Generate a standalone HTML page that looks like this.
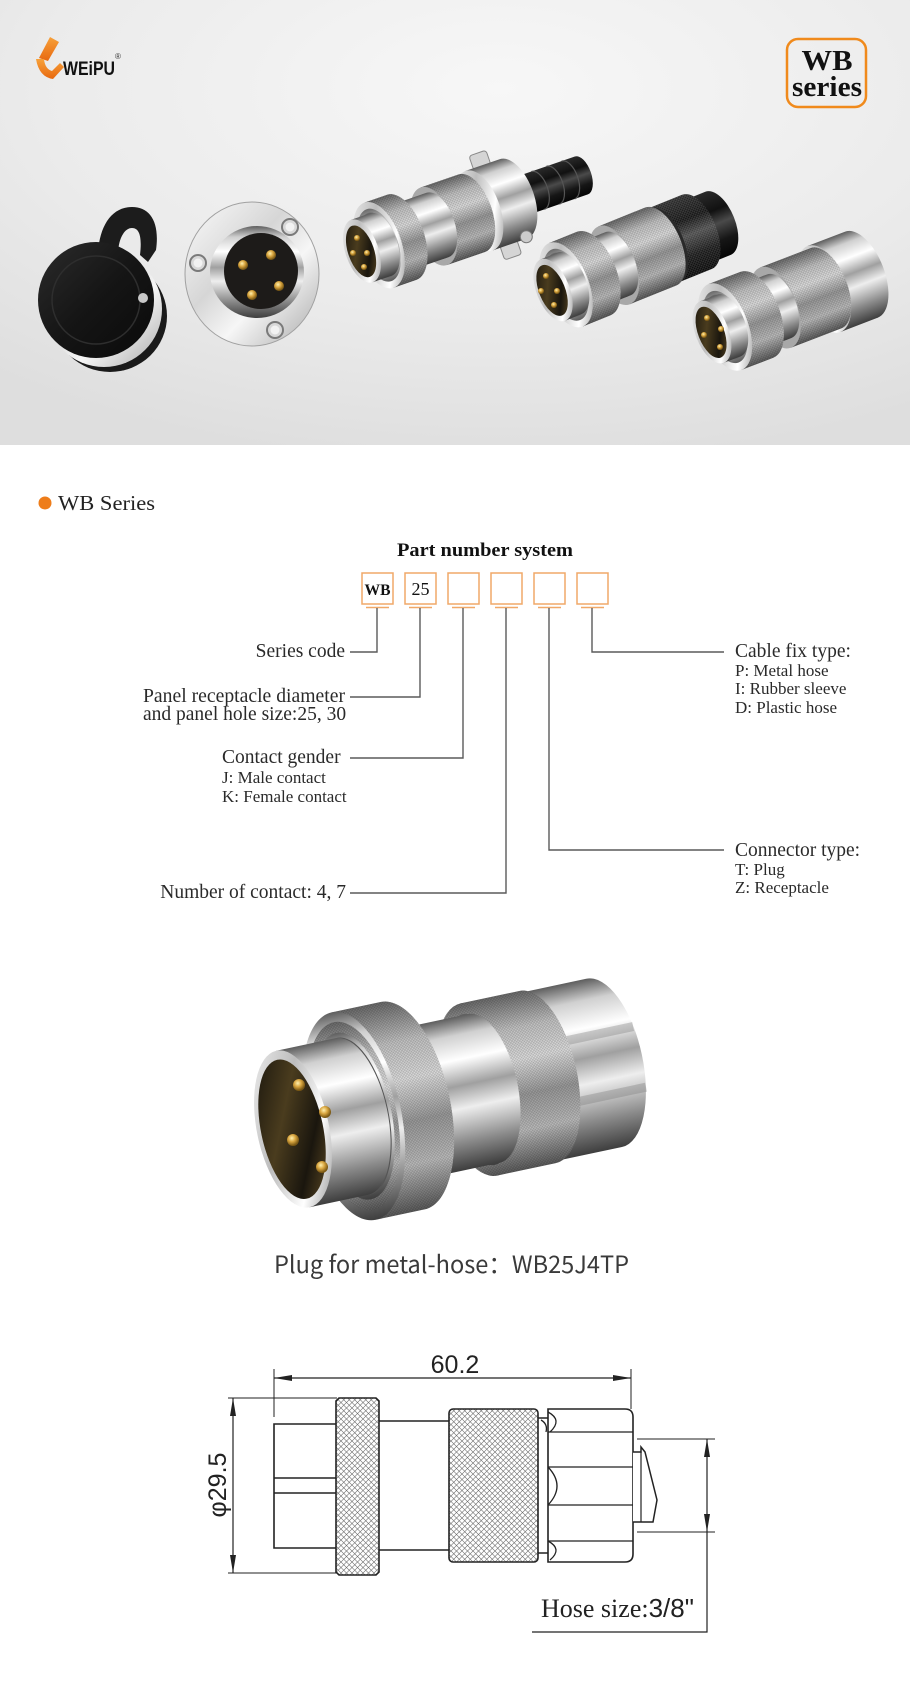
<!DOCTYPE html>
<html><head><meta charset="utf-8"><style>
html,body{margin:0;padding:0;background:#fff;}
svg{display:block;}
</style></head><body>
<svg width="910" height="1696" viewBox="0 0 910 1696" xmlns="http://www.w3.org/2000/svg">
<defs>
 <radialGradient id="bg" cx="0.55" cy="0.2" r="0.85">
  <stop offset="0" stop-color="#f7f7f7"/><stop offset="0.6" stop-color="#ebebeb"/><stop offset="1" stop-color="#dedede"/>
 </radialGradient>
 <linearGradient id="chrome" x1="0" y1="0" x2="0" y2="1">
  <stop offset="0" stop-color="#5e5e5e"/><stop offset="0.12" stop-color="#d0d0d0"/><stop offset="0.28" stop-color="#ffffff"/><stop offset="0.45" stop-color="#a0a0a0"/><stop offset="0.6" stop-color="#eeeeee"/><stop offset="0.82" stop-color="#8a8a8a"/><stop offset="1" stop-color="#3e3e3e"/>
 </linearGradient>
 <linearGradient id="chromeL" x1="0" y1="0" x2="1" y2="1">
  <stop offset="0" stop-color="#f4f4f4"/><stop offset="0.4" stop-color="#bdbdbd"/><stop offset="0.7" stop-color="#ffffff"/><stop offset="1" stop-color="#7a7a7a"/>
 </linearGradient>
 <linearGradient id="knurl" x1="0" y1="0" x2="0" y2="1">
  <stop offset="0" stop-color="#6a6a6a"/><stop offset="0.2" stop-color="#c4c4c4"/><stop offset="0.38" stop-color="#dedede"/><stop offset="0.58" stop-color="#9a9a9a"/><stop offset="0.78" stop-color="#bcbcbc"/><stop offset="1" stop-color="#5a5a5a"/>
 </linearGradient>
 <linearGradient id="blk" x1="0" y1="0" x2="0" y2="1">
  <stop offset="0" stop-color="#2a2a2a"/><stop offset="0.3" stop-color="#111"/><stop offset="0.5" stop-color="#4a4a4a"/><stop offset="0.75" stop-color="#161616"/><stop offset="1" stop-color="#050505"/>
 </linearGradient>
 <linearGradient id="flg" x1="0" y1="0" x2="1" y2="1">
  <stop offset="0" stop-color="#fbfbfb"/><stop offset="0.4" stop-color="#d6d6d6"/><stop offset="0.62" stop-color="#f6f6f6"/><stop offset="1" stop-color="#a8a8a8"/>
 </linearGradient>
 <linearGradient id="capg" x1="0" y1="0" x2="1" y2="1">
  <stop offset="0" stop-color="#2c2c2c"/><stop offset="0.5" stop-color="#151515"/><stop offset="1" stop-color="#0a0a0a"/>
 </linearGradient>
 <linearGradient id="ins" x1="0" y1="0" x2="1" y2="1">
  <stop offset="0" stop-color="#15120c"/><stop offset="0.4" stop-color="#4a3c1e"/><stop offset="0.7" stop-color="#1a160e"/><stop offset="1" stop-color="#6b5428"/>
 </linearGradient>
 <radialGradient id="gp" cx="0.4" cy="0.35" r="0.6">
  <stop offset="0" stop-color="#fff1b0"/><stop offset="0.5" stop-color="#d9a640"/><stop offset="1" stop-color="#7a5814"/>
 </radialGradient>
 <linearGradient id="org" x1="0" y1="0" x2="0" y2="1">
  <stop offset="0" stop-color="#f7a13a"/><stop offset="1" stop-color="#e8680f"/>
 </linearGradient>
 <pattern id="kt" width="3" height="3" patternUnits="userSpaceOnUse"><path d="M0,0L3,3M3,0L0,3" stroke="#000" stroke-opacity="0.22" stroke-width="0.6"/></pattern>
 <pattern id="kt2" width="3" height="3" patternUnits="userSpaceOnUse"><path d="M0,0L3,3M3,0L0,3" stroke="#fff" stroke-opacity="0.18" stroke-width="0.6"/></pattern>
 <pattern id="hatch" width="5.5" height="5.5" patternUnits="userSpaceOnUse"><path d="M0,0L5.5,5.5M5.5,0L0,5.5" stroke="#666" stroke-width="0.6"/></pattern>
</defs>

<!-- ===== Banner ===== -->
<rect x="0" y="0" width="910" height="445" fill="url(#bg)"/>

<!-- logo -->
<path d="M50,37 L59,42 L48,61 L39,58 Z" fill="url(#org)"/>
<path d="M36,59 L44,59 Q45,69 52,71 L60,63 L64,67 L53,79 Q39,77 36,59 Z" fill="url(#org)"/>
<text x="63" y="75" font-family="'Liberation Sans', sans-serif" font-weight="bold" font-size="19" textLength="52" lengthAdjust="spacingAndGlyphs" fill="#111">WEiPU</text>
<text x="115" y="59" font-family="'Liberation Sans', sans-serif" font-size="8" fill="#333">®</text>

<!-- WB series box -->
<rect x="787" y="39" width="79" height="68" rx="11" fill="none" stroke="#f08a1c" stroke-width="2.5"/>
<text x="827" y="70" text-anchor="middle" font-family="'Liberation Serif', serif" font-weight="bold" font-size="28" textLength="51" lengthAdjust="spacingAndGlyphs" fill="#111">WB</text>
<text x="827" y="96" text-anchor="middle" font-family="'Liberation Serif', serif" font-weight="bold" font-size="28" textLength="70" lengthAdjust="spacingAndGlyphs" fill="#111">series</text>

<!-- black cap -->
<ellipse cx="110" cy="316" rx="57" ry="56" fill="#1a1a1a"/>
<ellipse cx="104" cy="309" rx="58" ry="58" fill="url(#flg)"/>
<path d="M98,252 C100,225 112,207 132,207 C150,207 160,222 156,250 L148,262 L140,255 C142,238 140,228 132,228 C124,228 118,240 118,255 Z" fill="#1c1c1c"/>
<ellipse cx="96" cy="300" rx="58" ry="58" fill="url(#capg)"/>
<ellipse cx="96" cy="300" rx="44" ry="44" fill="none" stroke="#2e2e2e" stroke-width="1.5"/>
<circle cx="143" cy="298" r="5" fill="#c8c8c8"/>

<!-- flange receptacle -->
<ellipse cx="252" cy="274" rx="67" ry="72" fill="url(#flg)" stroke="#a0a0a0" stroke-width="1"/>
<circle cx="290" cy="227" r="8" fill="#d8d8d8" stroke="#7a7a7a" stroke-width="2"/><circle cx="290" cy="227" r="4.5" fill="#f2f2f2"/>
<circle cx="198" cy="263" r="8" fill="#d8d8d8" stroke="#7a7a7a" stroke-width="2"/><circle cx="198" cy="263" r="4.5" fill="#f2f2f2"/>
<circle cx="275" cy="330" r="8" fill="#d8d8d8" stroke="#7a7a7a" stroke-width="2"/><circle cx="275" cy="330" r="4.5" fill="#f2f2f2"/>
<ellipse cx="257" cy="272" rx="47" ry="46" fill="url(#chrome)"/>
<ellipse cx="261" cy="271" rx="37" ry="38" fill="#1d1b19"/>
<circle cx="243" cy="265" r="5" fill="url(#gp)"/><circle cx="271" cy="255" r="5" fill="url(#gp)"/>
<circle cx="279" cy="286" r="5" fill="url(#gp)"/><circle cx="252" cy="295" r="5" fill="url(#gp)"/>

<!-- plug 3 (cable clamp) -->
<g transform="translate(362,251) rotate(-19)">
 <path d="M168,-20 L232,-20 A10,20 0 0 1 232,20 L168,20 Z" fill="url(#blk)"/>
 <g fill="none" stroke="#555" stroke-width="1.2"><path d="M186,-20 A10,20 0 0 1 186,20"/><path d="M202,-20 A10,20 0 0 1 202,20"/><path d="M218,-20 A10,20 0 0 1 218,20"/></g>
 <rect x="132" y="-55" width="18" height="15" rx="3" fill="#d5d5d5" stroke="#888"/>
 <rect x="132" y="40" width="18" height="15" rx="3" fill="#d5d5d5" stroke="#888"/>
 <path d="M124,-42 L160,-42 A21,42 0 0 1 160,42 L124,42 Z" fill="url(#chrome)"/>
 <ellipse cx="124" cy="0" rx="21" ry="42" fill="url(#chromeL)"/>
 <circle cx="160" cy="40" r="6" fill="#ccc" stroke="#777"/>
 <path d="M76,-41 L116,-41 A20.5,41 0 0 1 116,41 L76,41 Z" fill="url(#knurl)"/>
 <path d="M76,-41 L116,-41 A20.5,41 0 0 1 116,41 L76,41 Z" fill="url(#kt)"/>
 <ellipse cx="76" cy="0" rx="20.5" ry="41" fill="#a8a8a8"/>
 <ellipse cx="76" cy="0" rx="17" ry="34" fill="url(#chrome)"/>
 <path d="M38,-34 L80,-34 A17,34 0 0 1 80,34 L38,34 Z" fill="url(#chrome)"/>
 <path d="M18,-45 L42,-45 A22.5,45 0 0 1 42,45 L18,45 Z" fill="url(#knurl)"/>
 <path d="M18,-45 L42,-45 A22.5,45 0 0 1 42,45 L18,45 Z" fill="url(#kt)"/>
 <ellipse cx="18" cy="0" rx="22.5" ry="45" fill="url(#chromeL)"/>
 <ellipse cx="18" cy="0" rx="19" ry="38" fill="url(#knurl)"/>
 <ellipse cx="18" cy="0" rx="17" ry="34" fill="#6a6a6a"/>
 <path d="M0,-33 L20,-33 A16.5,33 0 0 1 20,33 L0,33 Z" fill="url(#chrome)"/>
 <ellipse cx="0" cy="0" rx="16.5" ry="33" fill="url(#chromeL)"/>
 <ellipse cx="-1" cy="0" rx="13" ry="27" fill="url(#ins)"/>
</g>
<circle cx="357" cy="238" r="3" fill="url(#gp)"/><circle cx="353" cy="253" r="3" fill="url(#gp)"/>
<circle cx="367" cy="253" r="3" fill="url(#gp)"/><circle cx="364" cy="267" r="3" fill="url(#gp)"/>

<!-- plug 4 (black sleeve) -->
<g transform="translate(553,290) rotate(-22)">
 <path d="M158,-34 L178,-34 A17,34 0 0 1 178,34 L158,34 Z" fill="url(#blk)"/>
 <ellipse cx="158" cy="0" rx="17" ry="34" fill="#1e1e1e"/>
 <path d="M120,-40 L155,-40 A20,40 0 0 1 155,40 L120,40 Z" fill="url(#blk)"/>
 <path d="M120,-40 L155,-40 A20,40 0 0 1 155,40 L120,40 Z" fill="url(#kt2)"/>
 <ellipse cx="120" cy="0" rx="20" ry="40" fill="#2a2a2a"/>
 <path d="M66,-42 L116,-42 A21,42 0 0 1 116,42 L66,42 Z" fill="url(#knurl)"/>
 <path d="M66,-42 L116,-42 A21,42 0 0 1 116,42 L66,42 Z" fill="url(#kt)"/>
 <ellipse cx="66" cy="0" rx="21" ry="42" fill="#a8a8a8"/>
 <ellipse cx="66" cy="0" rx="17" ry="34" fill="url(#chrome)"/>
 <path d="M38,-34 L70,-34 A17,34 0 0 1 70,34 L38,34 Z" fill="url(#chrome)"/>
 <path d="M14,-45 L44,-45 A22.5,45 0 0 1 44,45 L14,45 Z" fill="url(#knurl)"/>
 <path d="M14,-45 L44,-45 A22.5,45 0 0 1 44,45 L14,45 Z" fill="url(#kt)"/>
 <ellipse cx="14" cy="0" rx="22.5" ry="45" fill="url(#chromeL)"/>
 <ellipse cx="14" cy="0" rx="19" ry="38" fill="url(#knurl)"/>
 <ellipse cx="14" cy="0" rx="17" ry="34" fill="#6a6a6a"/>
 <path d="M0,-33 L18,-33 A16.5,33 0 0 1 18,33 L0,33 Z" fill="url(#chrome)"/>
 <ellipse cx="0" cy="0" rx="16.5" ry="33" fill="url(#chromeL)"/>
 <ellipse cx="-1" cy="0" rx="13" ry="27" fill="url(#ins)"/>
</g>
<circle cx="546" cy="276" r="3" fill="url(#gp)"/><circle cx="541" cy="291" r="3" fill="url(#gp)"/>
<circle cx="557" cy="291" r="3" fill="url(#gp)"/><circle cx="554" cy="305" r="3" fill="url(#gp)"/>

<!-- plug 5 (nut) -->
<g transform="translate(712,332) rotate(-21)">
 <path d="M120,-46 L160,-46 A23,46 0 0 1 160,46 L120,46 Z" fill="url(#chrome)"/>
 <ellipse cx="120" cy="0" rx="23" ry="46" fill="url(#chromeL)"/>
 <path d="M68,-43 L122,-43 A21.5,43 0 0 1 122,43 L68,43 Z" fill="url(#knurl)"/>
 <path d="M68,-43 L122,-43 A21.5,43 0 0 1 122,43 L68,43 Z" fill="url(#kt)"/>
 <ellipse cx="68" cy="0" rx="21.5" ry="43" fill="#a8a8a8"/>
 <ellipse cx="68" cy="0" rx="17" ry="34" fill="url(#chrome)"/>
 <path d="M38,-34 L72,-34 A17,34 0 0 1 72,34 L38,34 Z" fill="url(#chrome)"/>
 <path d="M14,-46 L48,-46 A23,46 0 0 1 48,46 L14,46 Z" fill="url(#knurl)"/>
 <path d="M14,-46 L48,-46 A23,46 0 0 1 48,46 L14,46 Z" fill="url(#kt)"/>
 <ellipse cx="14" cy="0" rx="23" ry="46" fill="url(#chromeL)"/>
 <ellipse cx="14" cy="0" rx="19" ry="38" fill="url(#knurl)"/>
 <ellipse cx="14" cy="0" rx="17" ry="34" fill="#6a6a6a"/>
 <path d="M0,-33 L18,-33 A16.5,33 0 0 1 18,33 L0,33 Z" fill="url(#chrome)"/>
 <ellipse cx="0" cy="0" rx="16.5" ry="33" fill="url(#chromeL)"/>
 <ellipse cx="-1" cy="0" rx="13" ry="27" fill="url(#ins)"/>
</g>
<circle cx="707" cy="318" r="3" fill="url(#gp)"/><circle cx="704" cy="335" r="3" fill="url(#gp)"/>
<circle cx="721" cy="329" r="3" fill="url(#gp)"/><circle cx="720" cy="347" r="3" fill="url(#gp)"/>

<!-- ===== WB Series heading ===== -->
<ellipse cx="45" cy="503" rx="6.5" ry="6.5" fill="#ee7d1a"/>
<text x="58" y="510" font-family="'Liberation Serif', serif" font-size="21" fill="#222" textLength="97" lengthAdjust="spacingAndGlyphs">WB  Series</text>

<!-- ===== Part number system ===== -->
<text x="485" y="556" text-anchor="middle" font-family="'Liberation Serif', serif" font-weight="bold" font-size="19" fill="#111" textLength="176" lengthAdjust="spacingAndGlyphs">Part  number system</text>

<g fill="none" stroke="#f0a868" stroke-width="1.5">
 <rect x="362" y="573" width="31" height="31"/>
 <rect x="405" y="573" width="31" height="31"/>
 <rect x="448" y="573" width="31" height="31"/>
 <rect x="491" y="573" width="31" height="31"/>
 <rect x="534" y="573" width="31" height="31"/>
 <rect x="577" y="573" width="31" height="31"/>
 <path d="M366,607.5H389 M409,607.5H432 M452,607.5H475 M495,607.5H518 M538,607.5H561 M581,607.5H604"/>
</g>
<text x="377.5" y="595" text-anchor="middle" font-family="'Liberation Serif', serif" font-weight="bold" font-size="16" fill="#111" textLength="26" lengthAdjust="spacingAndGlyphs">WB</text>
<text x="420.5" y="595" text-anchor="middle" font-family="'Liberation Serif', serif" font-size="18" fill="#111">25</text>

<g fill="none" stroke="#5a5a5a" stroke-width="1.4">
 <path d="M377,608 V652 H350"/>
 <path d="M420,608 V697 H350"/>
 <path d="M463,608 V758 H350"/>
 <path d="M506,608 V893 H350"/>
 <path d="M549,608 V850 H724"/>
 <path d="M592,608 V652 H724"/>
</g>

<g font-family="'Liberation Serif', serif" fill="#2a2a2a">
 <text x="345" y="657" text-anchor="end" font-size="19.5">Series code</text>
 <text x="345" y="702" text-anchor="end" font-size="19.5" textLength="202" lengthAdjust="spacingAndGlyphs">Panel receptacle diameter</text>
 <text x="143" y="720" font-size="19.5">and panel hole size:25, 30</text>
 <text x="222" y="763" font-size="19.5">Contact  gender</text>
 <text x="222" y="783" font-size="17">J: Male  contact</text>
 <text x="222" y="802" font-size="17">K: Female  contact</text>
 <text x="346" y="898" text-anchor="end" font-size="19.5">Number of contact: 4, 7</text>
 <text x="735" y="657" font-size="19.5">Cable fix type:</text>
 <text x="735" y="676" font-size="17">P: Metal hose</text>
 <text x="735" y="694" font-size="17">I:  Rubber sleeve</text>
 <text x="735" y="713" font-size="17">D: Plastic hose</text>
 <text x="735" y="856" font-size="19.5">Connector type:</text>
 <text x="735" y="875" font-size="17">T: Plug</text>
 <text x="735" y="893" font-size="17">Z: Receptacle</text>
</g>

<!-- ===== Big product photo ===== -->
<g transform="translate(293,1129) rotate(-12)">
 <ellipse cx="332" cy="0" rx="14" ry="32" fill="#2a2a22"/>
 <path d="M248,-86 L318,-86 A38.7,86 0 0 1 318,86 L248,86 Z" fill="url(#chrome)"/>
 <rect x="262" y="-34" width="92" height="9" fill="#777" opacity="0.35"/>
 <rect x="262" y="28" width="92" height="9" fill="#777" opacity="0.35"/>
 <ellipse cx="248" cy="0" rx="38.7" ry="86" fill="#d4d4d4"/>
 <path d="M190,-88 L250,-88 A39.6,88 0 0 1 250,88 L190,88 Z" fill="url(#knurl)"/>
 <path d="M190,-88 L250,-88 A39.6,88 0 0 1 250,88 L190,88 Z" fill="url(#kt)"/>
 <ellipse cx="190" cy="0" rx="39.6" ry="88" fill="url(#knurl)"/>
 <ellipse cx="190" cy="0" rx="39.6" ry="88" fill="url(#kt)"/>
 <ellipse cx="190" cy="0" rx="34" ry="77" fill="url(#chrome)"/>
 <path d="M110,-76 L195,-76 A34,76 0 0 1 195,76 L110,76 Z" fill="url(#chrome)"/>
 <path d="M62,-106 L112,-106 A47.7,106 0 0 1 112,106 L62,106 Z" fill="url(#knurl)"/>
 <path d="M62,-106 L112,-106 A47.7,106 0 0 1 112,106 L62,106 Z" fill="url(#kt)"/>
 <ellipse cx="62" cy="0" rx="47.7" ry="106" fill="url(#chrome)"/>
 <ellipse cx="62" cy="0" rx="43" ry="96" fill="url(#knurl)"/>
 <ellipse cx="62" cy="0" rx="43" ry="96" fill="url(#kt)"/>
 <ellipse cx="62" cy="0" rx="38" ry="85" fill="url(#chrome)"/>
 <ellipse cx="62" cy="0" rx="35" ry="80" fill="#555"/>
 <path d="M0,-80 L60,-80 A36,80 0 0 1 60,80 L0,80 Z" fill="url(#chrome)"/>
 <ellipse cx="0" cy="0" rx="36" ry="80" fill="url(#chromeL)"/>
 <ellipse cx="-1" cy="0" rx="31" ry="71" fill="url(#ins)"/>
</g>
<circle cx="299" cy="1085" r="6" fill="url(#gp)"/><circle cx="325" cy="1112" r="6" fill="url(#gp)"/>
<circle cx="293" cy="1140" r="6" fill="url(#gp)"/><circle cx="322" cy="1167" r="6" fill="url(#gp)"/>

<text x="274" y="1273" font-family="'Noto Sans CJK SC', 'Liberation Sans', sans-serif" font-size="24" fill="#3a3a3a" textLength="355" lengthAdjust="spacingAndGlyphs">Plug for metal-hose：WB25J4TP</text>

<!-- ===== Dimension drawing ===== -->
<g stroke="#222" fill="none">
 <path d="M274,1369 V1417 M631,1369 V1409" stroke-width="1"/>
 <path d="M228,1398 H337 M228,1573 H337" stroke-width="1"/>
 <path d="M637,1439 H715 M637,1532 H715" stroke-width="1"/>
 <path d="M274,1378 H631" stroke-width="1.2"/>
 <path d="M233,1398 V1573" stroke-width="1.2"/>
 <path d="M707,1439 V1632 H532" stroke-width="1.2"/>
 <path d="M336,1424 H274 V1548 H336 M274,1478 H336 M274,1493 H336" stroke-width="1.6"/>
 <path d="M379,1421 H449 M379,1550 H449" stroke-width="1.6"/>
 <path d="M538,1418 H548 M538,1553 H548" stroke-width="1.4"/>
</g>
<polygon points="339,1398 376,1398 379,1401 379,1572 376,1575 339,1575 336,1572 336,1401" fill="url(#hatch)" stroke="#222" stroke-width="1.6"/>
<rect x="449" y="1409" width="89" height="153" rx="4" fill="url(#hatch)" stroke="#222" stroke-width="1.6"/>
<path d="M548,1409 L625,1409 Q633,1409 633,1417 L633,1554 Q633,1562 625,1562 L548,1562 Z" fill="#fff" stroke="#222" stroke-width="1.6"/>
<g stroke="#222" fill="none" stroke-width="1.3">
 <path d="M548,1432 H633 M548,1467 H633 M548,1505 H633 M548,1541 H633"/>
 <path d="M548,1412 Q563,1420 550,1432"/>
 <path d="M548,1467 Q566,1486 548,1505"/>
 <path d="M548,1541 Q563,1549 550,1560"/>
 <path d="M541,1420 Q548,1424 546,1432"/>
</g>
<path d="M633,1452 L641,1452 L641,1447 L645,1452 L657,1500 L653,1522 L641,1522 L633,1522" fill="#fff" stroke="#222" stroke-width="1.5"/>
<path d="M641,1452 V1522" stroke="#222" stroke-width="1.2"/>

<g fill="#222">
 <polygon points="274,1378 292,1375 292,1381"/>
 <polygon points="631,1378 613,1375 613,1381"/>
 <polygon points="233,1398 230,1416 236,1416"/>
 <polygon points="233,1573 230,1555 236,1555"/>
 <polygon points="707,1439 704,1457 710,1457"/>
 <polygon points="707,1532 704,1514 710,1514"/>
</g>

<text x="455" y="1373" text-anchor="middle" font-family="'Liberation Sans', sans-serif" font-size="25" fill="#222">60.2</text>
<text transform="translate(226,1485) rotate(-90)" text-anchor="middle" font-family="'Liberation Sans', 'DejaVu Sans', sans-serif" font-size="25" fill="#222">φ29.5</text>
<text x="541" y="1617" font-size="26" fill="#222"><tspan font-family="'Liberation Serif', serif">Hose size:</tspan><tspan font-family="'Liberation Sans', sans-serif">3/8"</tspan></text>

</svg>
</body></html>
